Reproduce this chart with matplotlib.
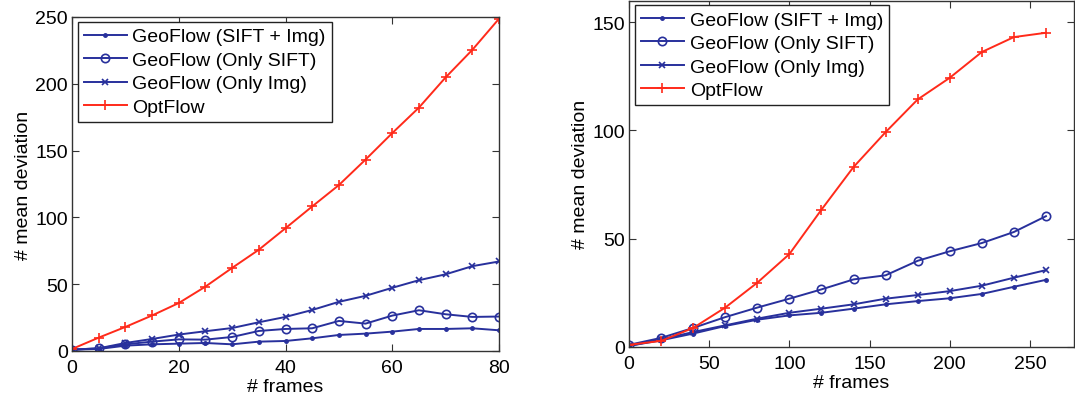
import matplotlib
matplotlib.use("Agg")
import matplotlib.pyplot as plt

plt.rcParams['font.family'] = ['Liberation Sans', 'DejaVu Sans']

# ---- left panel: short sequences ----
frames_a = [0, 5, 10, 15, 20, 25, 30, 35, 40, 45, 50, 55, 60, 65, 70, 75, 80]
sift_img_a = [1, 1.5, 4, 5, 5.5, 6, 5, 7, 7.5, 9.5, 12, 13, 14.5, 16.5, 16.5, 17, 15.5]
only_sift_a = [1, 2, 5, 7, 8.7, 8.5, 10.5, 15, 16.5, 17, 22.5, 20.5, 26.5, 30.5, 27.5, 25.5, 25.8]
only_img_a = [1, 2, 6, 9, 12.3, 14.8, 17.2, 21.5, 25.5, 30.7, 36.8, 41.3, 47.3, 53, 57.4, 63.5, 67]
optflow_a = [1.5, 10, 18, 26.6, 35.9, 48.2, 62.2, 75.8, 91.9, 108.2, 124.2, 143.3, 163.1,
             182.2, 204.8, 225.4, 248.7]

# ---- right panel: long sequences ----
frames_b = [0, 20, 40, 60, 80, 100, 120, 140, 160, 180, 200, 220, 240, 260]
sift_img_b = [0.5, 3.1, 6.2, 9.7, 12.6, 14.6, 15.8, 17.7, 19.7, 21.2, 22.5, 24.5, 27.8, 31]
only_sift_b = [1, 4.2, 8.8, 13.8, 18.2, 22.3, 26.6, 31.2, 33.1, 39.8, 44.2, 48, 53.1, 60.4]
only_img_b = [0.5, 3.5, 6.9, 10, 13.1, 15.8, 17.7, 19.7, 22.3, 24, 25.8, 28.3, 32, 35.5]
optflow_b = [1, 2.8, 8.8, 18.2, 29.7, 42.9, 63.4, 83.1, 99.2, 114.3, 124.3, 136.2, 143.1, 145.1]

labels = ["GeoFlow (SIFT + Img)", "GeoFlow (Only SIFT)", "GeoFlow (Only Img)", "OptFlow"]
xticks_a = [0, 20, 40, 60, 80]
yticks_a = [0, 50, 100, 150, 200, 250]
xticks_b = [0, 50, 100, 150, 200, 250]
yticks_b = [0, 50, 100, 150]

BLUE = "#28309c"
RED = "#ff2a1a"
FS = 14

fig = plt.figure(figsize=(10.75, 4.02), dpi=100)
ax_a = fig.add_axes([72 / 1075, 50 / 402, 427 / 1075, 334 / 402])
ax_b = fig.add_axes([629 / 1075, 54 / 402, 445 / 1075, 346.5 / 402])


def draw(ax, x, s1, s2, s3, s4):
    ax.plot(x, s1, color=BLUE, lw=1.4, marker='.', ms=5, label=labels[0])
    ax.plot(x, s2, color=BLUE, lw=1.4, marker='o', ms=6, mfc='none', mew=1.2, label=labels[1])
    ax.plot(x, s3, color=BLUE, lw=1.4, marker='x', ms=4.5, mew=1.2, label=labels[2])
    ax.plot(x, s4, color=RED, lw=1.4, marker='+', ms=7, mew=1.2, label=labels[3])


def style(ax, xlim, ylim, xt, yt, anchor):
    ax.set_xlim(*xlim)
    ax.set_ylim(*ylim)
    ax.set_xticks(xt)
    ax.set_yticks(yt)
    ax.tick_params(direction='in', length=5, width=0.8, top=True, right=True,
                   labelsize=FS, color='#333333')
    ax.tick_params(axis='x', pad=6)
    ax.tick_params(axis='y', pad=3)
    for sp in ax.spines.values():
        sp.set_linewidth(1.0)
        sp.set_color('#333333')
    ax.set_xlabel("# frames", fontsize=FS, labelpad=1)
    ax.set_ylabel("# mean deviation", fontsize=FS, labelpad=2)
    leg = ax.legend(loc='upper left', bbox_to_anchor=anchor, borderaxespad=0,
                    fontsize=FS, handlelength=2.2, handletextpad=0.3,
                    labelspacing=0.3, borderpad=0.3, fancybox=False,
                    framealpha=1, edgecolor='#222222')
    leg.get_frame().set_linewidth(1.0)


draw(ax_a, frames_a, sift_img_a, only_sift_a, only_img_a, optflow_a)
style(ax_a, (0, 80), (0, 250), xticks_a, yticks_a, (0.014, 0.985))

draw(ax_b, frames_b, sift_img_b, only_sift_b, only_img_b, optflow_b)
style(ax_b, (0, 277.5), (0, 160), xticks_b, yticks_b, (0.014, 0.986))

fig.savefig("out.png", dpi=100)
